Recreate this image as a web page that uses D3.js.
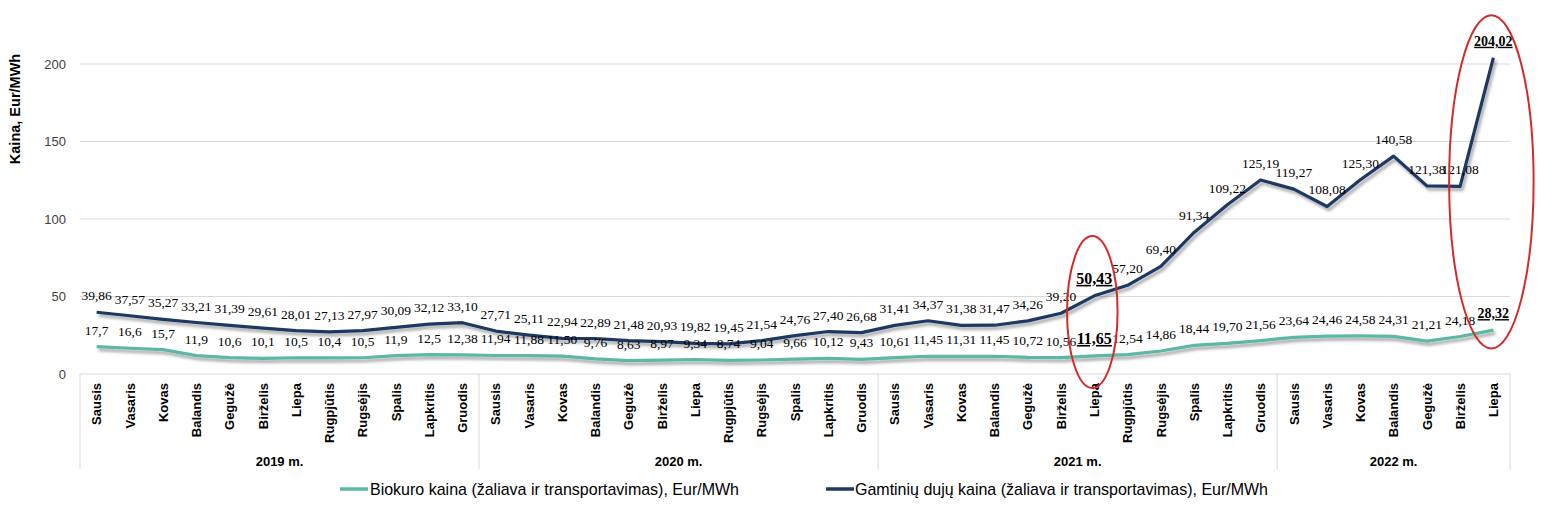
<!DOCTYPE html>
<html>
<head>
<meta charset="utf-8">
<script src="https://cdn.jsdelivr.net/npm/d3@7"></script>
<style>
  html, body { margin: 0; padding: 0; background: #fff; }
  svg { display: block; }
</style>
</head>
<body>
<svg id="chart" width="1550" height="517"></svg>
<script>
// ---------- DATA ----------
const monthNames = ["Sausis","Vasaris","Kovas","Balandis","Gegužė","Birželis","Liepa","Rugpjūtis","Rugsėjis","Spalis","Lapkritis","Gruodis"];
const years = ["2019 m.","2020 m.","2021 m.","2022 m."];
const monthsPerYear = [12, 12, 12, 7];

const gasValues = [
  39.86, 37.57, 35.27, 33.21, 31.39, 29.61, 28.01, 27.13, 27.97, 30.09, 32.12, 33.10,
  27.71, 25.11, 22.94, 22.89, 21.48, 20.93, 19.82, 19.45, 21.54, 24.76, 27.40, 26.68,
  31.41, 34.37, 31.38, 31.47, 34.26, 39.20, 50.43, 57.20, 69.40, 91.34, 109.22, 125.19,
  119.27, 108.08, 125.30, 140.58, 121.38, 121.08, 204.02
];
const bioValues = [
  17.7, 16.6, 15.7, 11.9, 10.6, 10.1, 10.5, 10.4, 10.5, 11.9, 12.5, 12.38,
  11.94, 11.88, 11.50, 9.76, 8.63, 8.97, 9.34, 8.74, 9.04, 9.66, 10.12, 9.43,
  10.61, 11.45, 11.31, 11.45, 10.72, 10.56, 11.65, 12.54, 14.86, 18.44, 19.70, 21.56,
  23.64, 24.46, 24.58, 24.31, 21.21, 24.18, 28.32
];
// number of decimals shown in each bio label (2019 labels mostly shown with one decimal)
const bioDecimals = [1,1,1,1,1,1,1,1,1,1,1,2].concat(new Array(31).fill(2));
const highlightIdx = [30, 42];  // bold, underlined labels
const yTicks = [0, 50, 100, 150, 200];
const seriesNames = ["Biokuro kaina (žaliava ir transportavimas), Eur/MWh", "Gamtinių dujų kaina (žaliava ir transportavimas), Eur/MWh"];
// red ellipse annotations: category index, value range, half-width in bands
const ellipses = [
  {idx: 30, vMin: -9, vMax: 89, halfBands: 0.76},
  {idx: 42, vMin: 16.5, vMax: 231.5, halfBands: 1.27}
];

// ---------- BUILD ----------
const cats = [];
years.forEach((yr, yi) => {
  for (let m = 0; m < monthsPerYear[yi]; m++) cats.push({key: yr + "|" + m, month: monthNames[m], year: yr});
});
const keys = cats.map(c => c.key);

const svg = d3.select("#chart");
const left = 80, right = 1510, zeroY = 374;

const x = d3.scaleBand().domain(keys).range([left, right]).padding(0);
const y = d3.scaleLinear().domain([0, 200]).range([zeroY, 64]);
const cx = i => x(keys[i]) + x.bandwidth() / 2;
const fmt = (v, d) => v.toFixed(d).replace(".", ",");

const defs = svg.append("defs");
const f = defs.append("filter").attr("id", "shadow").attr("x", "-5%").attr("y", "-20%").attr("width", "110%").attr("height", "160%");
f.append("feDropShadow").attr("dx", 2).attr("dy", 3).attr("stdDeviation", 1.6).attr("flood-color", "#000").attr("flood-opacity", 0.35);

// gridlines
svg.append("g").selectAll("line").data(yTicks).join("line")
  .attr("x1", left).attr("x2", right)
  .attr("y1", d => y(d)).attr("y2", d => y(d))
  .attr("stroke", "#d9d9d9").attr("stroke-width", 1);

// y tick labels
svg.append("g").selectAll("text").data(yTicks).join("text")
  .attr("x", 66).attr("y", d => y(d)).attr("dy", "0.35em")
  .attr("text-anchor", "end")
  .attr("font-family", "Liberation Sans, Arial, sans-serif").attr("font-size", 13)
  .attr("fill", "#404040").text(d => d);

// y axis title
svg.append("text")
  .attr("transform", "translate(15,109) rotate(-90)")
  .attr("dy", "0.35em").attr("text-anchor", "middle")
  .attr("font-family", "Liberation Sans, Arial, sans-serif").attr("font-size", 14.5).attr("font-weight", "bold")
  .attr("fill", "#000").text("Kaina, Eur/MWh");

// category table separators
const sepIdx = [0];
let acc = 0;
monthsPerYear.forEach(n => { acc += n; sepIdx.push(acc); });
svg.append("g").selectAll("line").data(sepIdx).join("line")
  .attr("x1", d => d < keys.length ? x(keys[d]) : right)
  .attr("x2", d => d < keys.length ? x(keys[d]) : right)
  .attr("y1", zeroY).attr("y2", 469)
  .attr("stroke", "#d9d9d9").attr("stroke-width", 1);

// month labels
svg.append("g").selectAll("text").data(cats).join("text")
  .attr("transform", (d, i) => `translate(${cx(i)},383) rotate(-90)`)
  .attr("dy", "0.36em").attr("text-anchor", "end")
  .attr("font-family", "Liberation Sans, Arial, sans-serif").attr("font-size", 13).attr("font-weight", "bold")
  .attr("fill", "#000").text(d => d.month);

// year labels
years.forEach((yr, yi) => {
  const s = sepIdx[yi], e = sepIdx[yi + 1];
  const x0 = x(keys[s]);
  const x1 = e < keys.length ? x(keys[e]) : right;
  svg.append("text")
    .attr("x", (x0 + x1) / 2).attr("y", 466)
    .attr("text-anchor", "middle")
    .attr("font-family", "Liberation Sans, Arial, sans-serif").attr("font-size", 13).attr("font-weight", "bold")
    .attr("fill", "#000").text(yr);
});

// lines
const lineGen = d3.line().x((d, i) => cx(i)).y(d => y(d)).curve(d3.curveLinear);
const bioColor = "#5cb8a5", gasColor = "#1f3864";
svg.append("path").datum(bioValues).attr("d", lineGen)
  .attr("fill", "none").attr("stroke", bioColor).attr("stroke-width", 3.2)
  .attr("stroke-linejoin", "round").attr("filter", "url(#shadow)");
svg.append("path").datum(gasValues).attr("d", lineGen)
  .attr("fill", "none").attr("stroke", gasColor).attr("stroke-width", 3.2)
  .attr("stroke-linejoin", "round").attr("filter", "url(#shadow)");

// data labels
function addLabels(values, decimalsFn, bigSizes) {
  svg.append("g").selectAll("text").data(values).join("text")
    .attr("x", (d, i) => cx(i)).attr("y", d => y(d) - 12)
    .attr("text-anchor", "middle")
    .attr("font-family", "Liberation Serif, Times New Roman, serif")
    .attr("font-size", (d, i) => highlightIdx.includes(i) ? bigSizes[highlightIdx.indexOf(i)] : 13.5)
    .attr("font-weight", (d, i) => highlightIdx.includes(i) ? "bold" : "normal")
    .attr("text-decoration", (d, i) => highlightIdx.includes(i) ? "underline" : "none")
    .attr("fill", "#000")
    .text((d, i) => fmt(d, decimalsFn(i)));
}
addLabels(gasValues, () => 2, [16, 14]);
addLabels(bioValues, i => bioDecimals[i], [16, 14]);

// red ellipses
svg.append("g").selectAll("ellipse").data(ellipses).join("ellipse")
  .attr("cx", d => cx(d.idx) - 2)
  .attr("cy", d => (y(d.vMin) + y(d.vMax)) / 2)
  .attr("rx", d => d.halfBands * x.bandwidth())
  .attr("ry", d => (y(d.vMin) - y(d.vMax)) / 2)
  .attr("fill", "none").attr("stroke", "#d42a2a").attr("stroke-width", 2);

// legend
const legend = [
  {name: seriesNames[0], color: bioColor, x0: 340, tx: 370, tw: 369},
  {name: seriesNames[1], color: gasColor, x0: 826, tx: 855, tw: 413}
];
const lg = svg.append("g").selectAll("g").data(legend).join("g");
lg.append("line")
  .attr("x1", d => d.x0).attr("x2", d => d.x0 + 28)
  .attr("y1", 489).attr("y2", 489)
  .attr("stroke", d => d.color).attr("stroke-width", 3.5);
lg.append("text")
  .attr("x", d => d.tx).attr("y", 489).attr("dy", "0.35em")
  .attr("font-family", "Liberation Sans Narrow, Arial Narrow, Liberation Sans, sans-serif")
  .attr("font-size", 17)
  .attr("textLength", d => d.tw).attr("lengthAdjust", "spacingAndGlyphs")
  .attr("fill", "#000").text(d => d.name);
</script>
</body>
</html>
